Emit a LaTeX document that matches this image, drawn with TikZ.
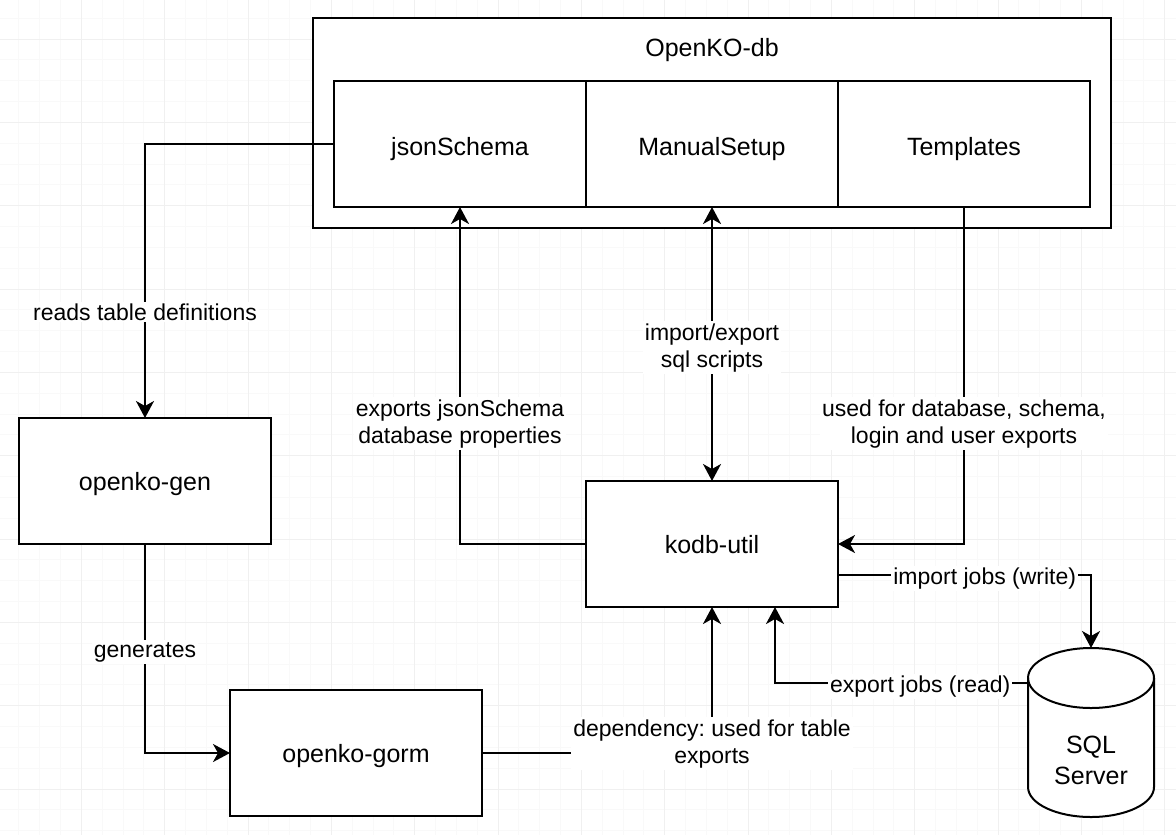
\documentclass[tikz,border=0pt]{standalone}
\usepackage{fontspec}
\setmainfont{Liberation Sans}
\usetikzlibrary{positioning,arrows.meta,calc}
\frenchspacing

\begin{document}
\begin{tikzpicture}[
    x=0.5pt, y=-0.5pt,
    node distance=0pt,
    >={Stealth[length=8.5pt, width=9pt, inset=2.5pt]},
    box/.style={draw, fill=white, line width=1pt, outer sep=0pt, minimum width=126pt, minimum height=63pt, align=center, text height=9pt, text depth=0pt, font={\fontsize{12.5}{15.5}\selectfont}},
    cell/.style={box, text height=11pt},
    arrow/.style={->, line width=1pt},
    lbl/.style={fill=white, inner sep=1pt, yshift=-1.8pt, align=center, font={\fontsize{11.5}{13.5}\selectfont}},
    minorline/.style={gray!5, line width=0.5pt},
    majorline/.style={gray!12, line width=0.5pt}
]
% page and grid
\useasboundingbox (0,0) rectangle (1176,835);
\fill[white] (0,0) rectangle (1176,835);
\foreach \i in {0,...,57} \draw[minorline] ({-2+20.833*\i},0) -- ({-2+20.833*\i},835);
\foreach \j in {-2,...,40} \draw[minorline] (0,{39+20.833*\j}) -- (1176,{39+20.833*\j});
\foreach \k in {0,...,14} \draw[majorline] ({-2+83.333*\k},0) -- ({-2+83.333*\k},835);
\foreach \k in {-1,...,10} \draw[majorline] (0,{39+83.333*\k}) -- (1176,{39+83.333*\k});

% OpenKO-db container
\node[box, text height=0pt, minimum width=399pt, minimum height=105pt] (db) at (712,123) {};
\node[anchor=base, font={\fontsize{12.5}{15.5}\selectfont}] (dbtitle) at (712,56.7) {OpenKO-db};
\node[cell] (json) at (460,144) {jsonSchema};
\node[cell, right=of json] (manual) {ManualSetup};
\node[cell, right=of manual] (tmpl) {Templates};

% tools
\node[box] (gen) at (145,481) {openko-gen};
\node[box] (gorm) at (356,753) {openko-gorm};
\node[box] (kodb) at (712,544) {kodb-util};

% database
\node[minimum width=63pt, minimum height=84.5pt, outer sep=0pt] (sql) at (1091,732.5) {};
\draw[fill=white, line width=1pt] ($(sql.north west)+(0,30)$) -- ($(sql.south west)+(0,-30)$)
    arc[start angle=180, end angle=0, x radius=63, y radius=30] -- ($(sql.north east)+(0,30)$)
    arc[start angle=0, end angle=-180, x radius=63, y radius=30] -- cycle;
\draw[line width=1pt] ($(sql.north west)+(0,30)$) arc[start angle=180, end angle=0, x radius=63, y radius=30];
\node[align=center, font={\fontsize{12.5}{15.5}\selectfont}] (sqltext) at (1091,760) {SQL\\Server};

% connectors
\draw[arrow] (json.west) -| node[lbl, pos=0.8]{reads table definitions} (gen.north);
\draw[arrow] (gen.south) |- node[lbl, pos=0.25]{generates} (gorm.west);
\draw[arrow] (gorm.east) -| node[lbl, yshift=6.5pt]{dependency: used for table\\exports} (kodb.south);
\draw[arrow] (kodb.west) -| node[lbl, pos=0.684]{exports jsonSchema\\database properties} (json.south);
\draw[arrow, <->] (kodb.north) -- node[lbl]{import/export\\sql scripts} (manual.south);
\draw[arrow] (tmpl.south) |- node[lbl, pos=0.316]{used for database, schema,\\login and user exports} (kodb.east);
\draw[arrow] ([yshift=-15.5pt]kodb.east) -| node[lbl, pos=0.29]{import jobs (write)} (sql.north);
\draw[arrow] ([yshift=24.75pt]sql.west) -| node[lbl, pos=0.213]{export jobs (read)} ([xshift=31.5pt]kodb.south);
\end{tikzpicture}
\end{document}
